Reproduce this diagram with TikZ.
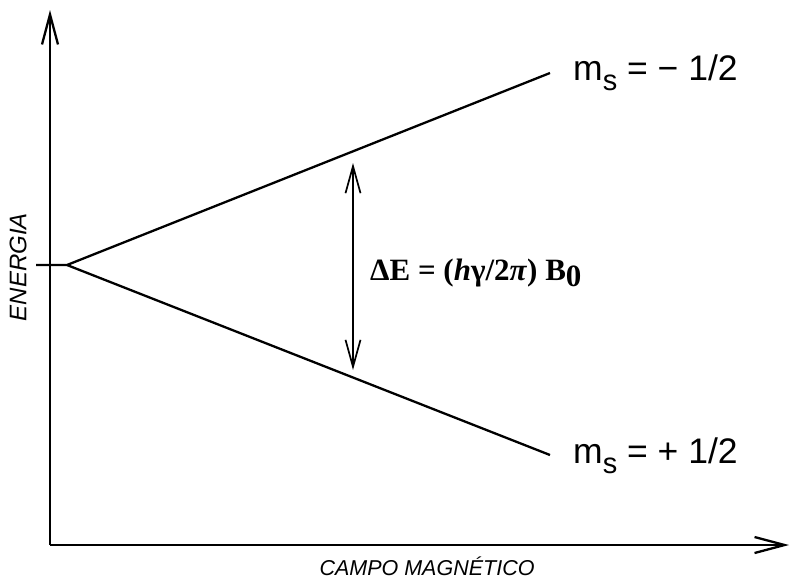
\documentclass[tikz,border=0pt]{standalone}
\usepackage{fontspec}
\setmainfont{Liberation Serif}
\setsansfont{Liberation Sans}
\usetikzlibrary{arrows.meta}
\begin{document}
\begin{tikzpicture}[x=1pt,y=-1pt,
  axis/.style={line width=2.3pt,-{Straight Barb[length=30pt,width=16pt,line width=2.3pt]}},
  level/.style={line width=2.3pt},
  gap/.style={line width=1.7pt,{Straight Barb[length=27pt,width=15pt,line width=1.7pt]}-{Straight Barb[length=27pt,width=15pt,line width=1.7pt]}},
  axlabel/.style={font=\sffamily\itshape\fontsize{21.5}{24}\selectfont, inner sep=0pt},
  mslabel/.style={font=\sffamily\fontsize{35.5}{40}\selectfont, inner sep=0pt},
  eqlabel/.style={font=\bfseries\fontsize{31}{34}\selectfont, inner sep=0pt}]
\useasboundingbox (0,0) rectangle (791,579);
\coordinate (O) at (50,545);
\coordinate (ytip) at (50,10);
\coordinate (xtip) at (789,545);
\coordinate (s0) at (36,265);
\coordinate (split) at (67,265);
\coordinate (up) at (550,73);
\coordinate (lo) at (550,455);
\coordinate (a1) at (353,163);
\coordinate (a2) at (353,370);
\draw[axis] (O) -- (ytip);
\draw[axis] (O) -- (xtip);
\draw[level] (s0) -- (split) -- (up);
\draw[level] (split) -- (lo);
\draw[gap] (a1) -- (a2);
\node[mslabel, anchor=base west] (mup) at (573,80) {m\raisebox{-0.3em}{\fontsize{29}{30}\selectfont s} = − 1/2};
\node[mslabel, anchor=base west] (mlo) at (573,463) {m\raisebox{-0.3em}{\fontsize{29}{30}\selectfont s} = + 1/2};
\node[eqlabel, anchor=base west] (eq) at (370,280) {ΔE = (\textit{h}γ/2\textit{π}) B\raisebox{-0.22em}{0}};
\node[axlabel, rotate=90, font=\sffamily\itshape\fontsize{24}{26}\selectfont] (en) at (18,267) {ENERGIA};
\node[axlabel, anchor=base] (cm) at (427,575) {CAMPO MAGNÉTICO};
\end{tikzpicture}
\end{document}
